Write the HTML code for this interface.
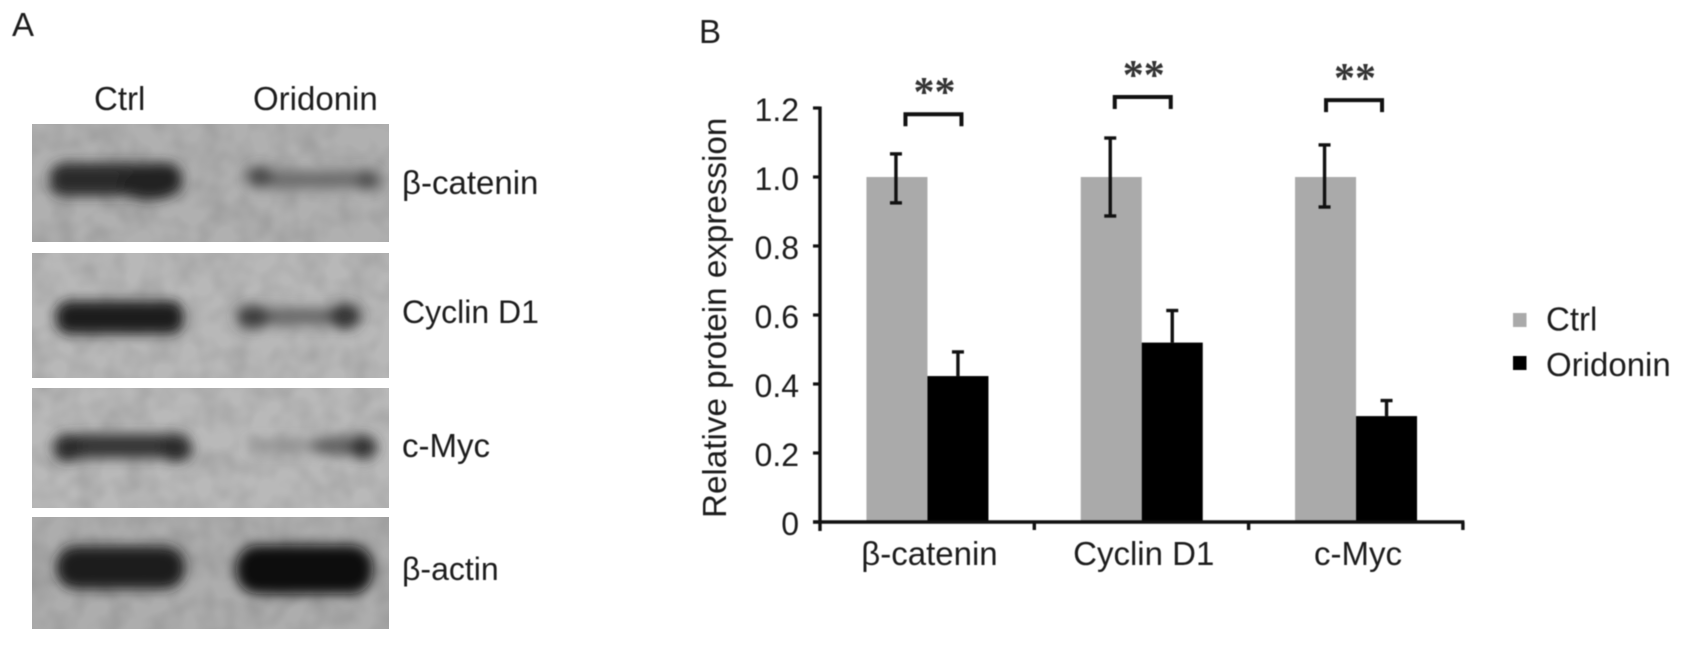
<!DOCTYPE html>
<html lang="en">
<head>
<meta charset="utf-8">
<title>Western blot and relative protein expression</title>
<style>
html,body{margin:0;padding:0;background:#fff;width:1681px;height:648px;overflow:hidden}
svg{display:block;position:absolute;left:0;top:0}
text{font-family:"Liberation Sans",Arial,sans-serif;fill:#1c1c1c;font-size:33px}
.soft{filter:blur(0.6px)}
</style>
</head>
<body>
<svg id="figure" xmlns="http://www.w3.org/2000/svg" width="1681" height="648" viewBox="0 0 1681 648">
  <defs>
    <filter id="bandBlur" x="-20%" y="-80%" width="140%" height="260%"><feGaussianBlur stdDeviation="6"/></filter>
    <filter id="mottle" x="0" y="0" width="100%" height="100%">
      <feTurbulence type="fractalNoise" baseFrequency="0.04" numOctaves="2" seed="4"/>
      <feColorMatrix type="matrix" values="0 0 0 0 0  0 0 0 0 0  0 0 0 0 0  0.2 0 0 0 -0.07"/>
    </filter>
    <clipPath id="clip1"><rect x="32" y="124" width="357" height="118"/></clipPath>
    <clipPath id="clip2"><rect x="32" y="253" width="357" height="125"/></clipPath>
    <clipPath id="clip3"><rect x="32" y="388" width="357" height="120"/></clipPath>
    <clipPath id="clip4"><rect x="32" y="517" width="357" height="112"/></clipPath>
  </defs>

  <g>
    <g clip-path="url(#clip1)">
      <rect x="32" y="124" width="357" height="118" fill="#b0b0b0"/>
      <rect x="32" y="124" width="357" height="118" filter="url(#mottle)"/>
      <g filter="url(#bandBlur)">
        <g>
          <rect x="50" y="163" width="132" height="33" rx="14" fill="#2a2a2a"/>
          <ellipse cx="150" cy="184" rx="30" ry="16" fill="#222"/>
        </g>
        <g>
          <rect x="248" y="171" width="130" height="17" rx="8" fill="#6c6c6c"/>
          <ellipse cx="260" cy="176" rx="14" ry="10" fill="#4a4a4a"/>
          <ellipse cx="368" cy="180" rx="12" ry="10" fill="#505050"/>
        </g>
      </g>
    </g>
    <g clip-path="url(#clip2)">
      <rect x="32" y="253" width="357" height="125" fill="#b8b8b8"/>
      <rect x="32" y="253" width="357" height="125" filter="url(#mottle)"/>
      <g filter="url(#bandBlur)">
        <g>
          <rect x="56" y="301" width="128" height="33" rx="14" fill="#1c1c1c"/>
        </g>
        <g>
          <rect x="238" y="308" width="120" height="17" rx="8" fill="#686868"/>
          <ellipse cx="253" cy="317" rx="17" ry="12" fill="#3e3e3e"/>
          <ellipse cx="345" cy="316" rx="16" ry="13" fill="#363636"/>
        </g>
      </g>
    </g>
    <g clip-path="url(#clip3)">
      <rect x="32" y="388" width="357" height="120" fill="#b9b9b9"/>
      <rect x="32" y="388" width="357" height="120" filter="url(#mottle)"/>
      <g filter="url(#bandBlur)">
        <g>
          <rect x="54" y="434" width="136" height="24" rx="11" fill="#343434"/>
          <ellipse cx="68" cy="449" rx="15" ry="13" fill="#2c2c2c"/>
          <ellipse cx="176" cy="449" rx="16" ry="13" fill="#2c2c2c"/>
        </g>
        <g>
          <rect x="250" y="441" width="85" height="10" rx="5" fill="#8c8c8c"/>
          <ellipse cx="338" cy="446" rx="28" ry="9" fill="#5e5e5e"/>
          <ellipse cx="363" cy="447" rx="14" ry="12" fill="#333"/>
        </g>
      </g>
    </g>
    <g clip-path="url(#clip4)">
      <rect x="32" y="517" width="357" height="112" fill="#adadad"/>
      <rect x="32" y="517" width="357" height="112" filter="url(#mottle)"/>
      <g filter="url(#bandBlur)">
        <g>
          <rect x="56" y="546" width="129" height="43" rx="20" fill="#1c1c1c"/>
        </g>
        <g>
          <rect x="236" y="545" width="137" height="49" rx="22" fill="#0c0c0c"/>
        </g>
      </g>
    </g>
    <g class="soft">
      <text x="12" y="36">A</text>
      <text x="94" y="110">Ctrl</text>
      <text x="253" y="110">Oridonin</text>
      <text x="402" y="194">β-catenin</text>
      <text x="402" y="323" style="font-size:32px">Cyclin D1</text>
      <text x="402" y="457">c-Myc</text>
      <text x="402" y="580" style="font-size:32px">β-actin</text>
    </g>
  </g>

  <g id="chart" class="soft">
    <text x="699" y="43">B</text>
    <text transform="translate(726 518) rotate(-90)" style="font-size:33.2px">Relative protein expression</text>
  </g>
</svg>

<script>
const categories = ['β-catenin', 'Cyclin D1', 'c-Myc'];
const seriesNames = ['Ctrl', 'Oridonin'];
const ctrlValues = [1.0, 1.0, 1.0];
const ctrlErrorHigh = [1.067, 1.113, 1.093];
const ctrlErrorLow = [0.925, 0.887, 0.913];
const oridoninValues = [0.423, 0.52, 0.307];
const oridoninErrorHigh = [0.493, 0.613, 0.352];
const bracketLevels = [1.182, 1.232, 1.223];
const significance = ['**', '**', '**'];
const yTickValues = [0, 0.2, 0.4, 0.6, 0.8, 1.0, 1.2];
const yTickLabels = ['0', '0.2', '0.4', '0.6', '0.8', '1.0', '1.2'];

const NS = 'http://www.w3.org/2000/svg';
const chart = document.getElementById('chart');
const AXIS_X = 820, BASE_Y = 522, PX_PER_UNIT = 345, CAT_W = 214.3, BAR_W = 61;
const AXIS_COLOR = '#111111';
const yScale = v => BASE_Y - PX_PER_UNIT * v;
const catLeft = i => AXIS_X + CAT_W * i;
const catCenter = i => catLeft(i) + CAT_W / 2 + 0.3;

function make(tag, attrs, parent) {
  const el = document.createElementNS(NS, tag);
  for (const k in attrs) el.setAttribute(k, attrs[k]);
  (parent || chart).appendChild(el);
  return el;
}
function stroke(x1, y1, x2, y2, w, parent) {
  return make('line', {x1, y1, x2, y2, stroke: AXIS_COLOR, 'stroke-width': w}, parent);
}

/* bars */
categories.forEach((c, i) => {
  const cx = catCenter(i);
  const g1 = make('rect', {x: cx - BAR_W, y: yScale(ctrlValues[i]), width: BAR_W, height: BASE_Y - yScale(ctrlValues[i]), fill: '#aaaaaa'});
  
  
  const g2 = make('rect', {x: cx, y: yScale(oridoninValues[i]), width: BAR_W, height: BASE_Y - yScale(oridoninValues[i]), fill: '#000000'});
  
  
});

/* error bars */
categories.forEach((c, i) => {
  const cx = catCenter(i);
  const gx = cx - BAR_W / 2 - 1;
  const e1 = make('g', {});
  
  
  stroke(gx, yScale(ctrlErrorHigh[i]), gx, yScale(ctrlErrorLow[i]), 3.4, e1);
  stroke(gx - 6, yScale(ctrlErrorHigh[i]), gx + 6, yScale(ctrlErrorHigh[i]), 3.4, e1);
  stroke(gx - 6, yScale(ctrlErrorLow[i]), gx + 6, yScale(ctrlErrorLow[i]), 3.4, e1);
  const bx = cx + BAR_W / 2;
  const e2 = make('g', {});
  
  
  stroke(bx, yScale(oridoninErrorHigh[i]), bx, yScale(oridoninValues[i]), 3.4, e2);
  stroke(bx - 6, yScale(oridoninErrorHigh[i]), bx + 6, yScale(oridoninErrorHigh[i]), 3.4, e2);
});

/* axes */
const yAxis = stroke(AXIS_X, yScale(1.2) - 1.5, AXIS_X, BASE_Y + 9, 3.4);


const xAxis = stroke(AXIS_X - 7, BASE_Y, catLeft(categories.length) + 1.5, BASE_Y, 3.4);



yTickValues.forEach((v, i) => {
  const t = stroke(AXIS_X - 7, yScale(v), AXIS_X, yScale(v), 3.2);
  
  
  const l = make('text', {x: 799, y: yScale(v) + 13, 'text-anchor': 'end', style: 'font-size:32px'});
  l.textContent = yTickLabels[i];
  
  
});

for (let i = 1; i <= categories.length; i++) {
  const t = stroke(catLeft(i), BASE_Y, catLeft(i), BASE_Y + 8, 3.4);
  
  
}

categories.forEach((c, i) => {
  const l = make('text', {x: catCenter(i) + 2, y: 565, 'text-anchor': 'middle'});
  l.textContent = c;
  
  
});

/* significance brackets */
const bracketShift = [6, 1, -2];
categories.forEach((c, i) => {
  const cx = catCenter(i) + bracketShift[i];
  const y = yScale(bracketLevels[i]);
  const b = make('path', {d: `M${cx - 28} ${y + 12} V${y} H${cx + 28} V${y + 12}`, fill: 'none', stroke: AXIS_COLOR, 'stroke-width': 4});
  
  
  const s = make('text', {x: cx + 1, y: y - 8, 'text-anchor': 'middle', style: 'font-family:"Liberation Serif",serif;font-size:42px;font-weight:bold;fill:#333'});
  s.textContent = significance[i];
  
  
});

/* legend */
const legendColors = ['#aaaaaa', '#000000'];
seriesNames.forEach((name, i) => {
  const g = make('g', {});
  
  
  const top = 313 + 43 * i;
  const sw = make('rect', {x: 1513, y: top, width: 13.5, height: 14, fill: legendColors[i]}, g);
  
  
  const t = make('text', {x: 1546, y: top + 17.5 + (i ? 2.5 : 0)}, g);
  t.textContent = name;
  
  
});
</script>
</body>
</html>
